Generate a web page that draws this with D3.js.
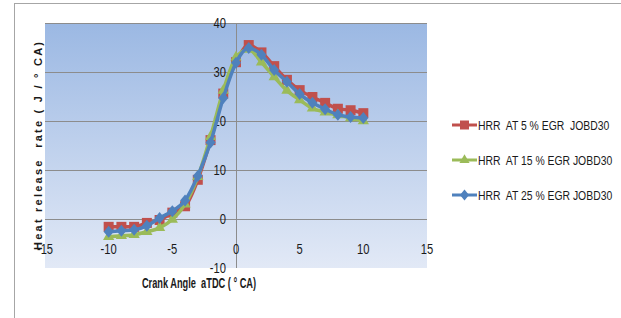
<!DOCTYPE html>
<html lang="en">
<head>
<meta charset="UTF-8">
<title>HRR</title>
<style>
    body{ margin:0; background:#fff; }
    svg{ display:block; }
    text{ white-space: pre; }
</style>
<script src="https://cdn.jsdelivr.net/npm/d3@7/dist/d3.min.js"></script>
</head>
<body>
<div id="container"></div>
<script>

var crankAngle = [-10,-9,-8,-7,-6,-5,-4,-3,-2,-1,0,1,2,3,4,5,6,7,8,9,10];

var hrr5  = [-1.6,-1.6,-1.6,-0.8,-0.2,1.3,2.6,8.0,16.1,25.6,32.0,35.5,34.0,31.2,28.4,26.3,24.9,23.7,22.5,22.2,21.6];
var hrr15 = [-3.6,-3.4,-3.2,-2.6,-1.8,-0.1,3.0,8.6,16.8,26.2,33.0,34.6,32.0,29.0,26.2,24.3,22.6,21.8,21.2,20.6,20.0];
var hrr25 = [-2.6,-2.4,-2.2,-1.4,0.2,1.6,3.8,8.8,15.6,24.7,31.9,34.9,33.5,30.4,28.0,25.5,23.7,22.4,21.3,20.8,20.6];

var seriesNames = ["HRR  AT 5 % EGR  JOBD30", "HRR  AT 15 % EGR JOBD30", "HRR  AT 25 % EGR JOBD30"];
var xTicks = [-15,-10,-5,0,5,10,15];
var yTicks = [-10,0,10,20,30,40];

var w = 621, h = 318;

var svg = d3.select("#container").append("svg")
    .attr("width", w).attr("height", h);

var xScale = d3.scaleLinear().domain([-15, 15]).range([45, 427]);
var yScale = d3.scaleLinear().domain([-10, 40]).range([268, 23]);

// outer frame
svg.append("rect").attr("x", 14.5).attr("y", 3.5).attr("width", 640).attr("height", 340)
    .attr("fill", "none").attr("stroke", "#a6a6a6").attr("stroke-width", 1);

// plot background gradient
var grad = svg.append("defs").append("linearGradient").attr("id", "bg")
    .attr("x1", 0).attr("y1", 0).attr("x2", 0).attr("y2", 1);
grad.append("stop").attr("offset", "0%").attr("stop-color", "#9bb8e3");
grad.append("stop").attr("offset", "100%").attr("stop-color", "#e2e9f6");

svg.append("rect")
    .attr("x", xScale(-15)).attr("y", yScale(40))
    .attr("width", xScale(15) - xScale(-15))
    .attr("height", yScale(-10) - yScale(40))
    .attr("fill", "url(#bg)");

// horizontal gridlines
svg.selectAll(".grid")
    .data(yTicks.filter(function(d){ return d !== -10; }))
    .enter().append("line")
    .attr("x1", xScale(-15)).attr("x2", xScale(15))
    .attr("y1", function(d){ return Math.round(yScale(d)) + 0.5; })
    .attr("y2", function(d){ return Math.round(yScale(d)) + 0.5; })
    .attr("stroke", "#8c8c8c").attr("stroke-width", 1);

// vertical axis at x = 0
svg.append("line")
    .attr("x1", Math.round(xScale(0)) + 0.5).attr("x2", Math.round(xScale(0)) + 0.5)
    .attr("y1", yScale(40)).attr("y2", yScale(-10))
    .attr("stroke", "#8c8c8c").attr("stroke-width", 1);

var font = "'Liberation Sans', Arial, sans-serif";

// x tick labels (narrow, Calibri-like)
svg.selectAll(".xt")
    .data(xTicks)
    .enter().append("text")
    .attr("transform", function(d){ return "translate(" + xScale(d) + ",254) scale(0.8,1)"; })
    .attr("text-anchor", "middle")
    .attr("font-family", font)
    .attr("font-size", "14px")
    .attr("fill", "#1a1a1a")
    .text(function(d){ return d; });

// y tick labels
svg.selectAll(".yt")
    .data(yTicks)
    .enter().append("text")
    .attr("transform", function(d){ return "translate(" + (xScale(0) - 10) + "," + (yScale(d) + 5) + ") scale(0.8,1)"; })
    .attr("text-anchor", "end")
    .attr("font-family", font)
    .attr("font-size", "14px")
    .attr("fill", "#1a1a1a")
    .text(function(d){ return d; });

var series = [
    {name: seriesNames[0], values: hrr5,  color: "#c0504d", marker: "square"},
    {name: seriesNames[1], values: hrr15, color: "#9bbb59", marker: "triangle"},
    {name: seriesNames[2], values: hrr25, color: "#4f81bd", marker: "diamond"}
];

function markerPath(type, size) {
    if (type === "square") return d3.symbol().type(d3.symbolSquare).size(size * size)();
    if (type === "triangle") return d3.symbol().type(d3.symbolTriangle).size(size * size * 0.55)();
    return "M0," + (-size * 0.6) + "L" + (size * 0.5) + ",0L0," + (size * 0.6) + "L" + (-size * 0.5) + ",0Z";
}

var line = d3.line()
    .x(function(d){ return xScale(d[0]); })
    .y(function(d){ return yScale(d[1]); })
    .curve(d3.curveMonotoneX);

series.forEach(function(s) {
    var pts = crankAngle.map(function(a, i){ return [a, s.values[i]]; });
    var g = svg.append("g");
    g.append("path")
        .attr("d", line(pts))
        .attr("fill", "none")
        .attr("stroke", s.color)
        .attr("stroke-width", 3.5)
        .attr("stroke-linejoin", "round");
    g.selectAll("path.m")
        .data(pts)
        .enter().append("path")
        .attr("class", "m")
        .attr("transform", function(d){ return "translate(" + xScale(d[0]) + "," + yScale(d[1]) + ")"; })
        .attr("d", markerPath(s.marker, 10))
        .attr("fill", s.color);
});

// legend
var legend = svg.append("g");
series.forEach(function(s, i) {
    var ly = 125 + i * 35;
    legend.append("line")
        .attr("x1", 452).attr("x2", 477)
        .attr("y1", ly).attr("y2", ly)
        .attr("stroke", s.color).attr("stroke-width", 3);
    legend.append("path")
        .attr("transform", "translate(464.5," + ly + ")")
        .attr("d", markerPath(s.marker, 9))
        .attr("fill", s.color);
    legend.append("text")
        .attr("transform", "translate(478," + (ly + 5) + ") scale(0.8,1)")
        .attr("font-family", font)
        .attr("font-size", "13px")
        .attr("fill", "#1a1a1a")
        .text(s.name);
});

// axis titles
svg.append("text")
    .attr("transform", "translate(199,288) scale(0.66,1)")
    .attr("text-anchor", "middle")
    .attr("font-family", font)
    .attr("font-weight", "bold")
    .attr("font-size", "14px")
    .attr("fill", "#1a1a1a")
    .text("Crank Angle  aTDC ( ° CA)");

svg.append("text")
    .attr("transform", "translate(42,146) rotate(-90)")
    .attr("text-anchor", "middle")
    .attr("font-family", font)
    .attr("font-weight", "bold")
    .attr("font-size", "11px")
    .attr("textLength", 208)
    .attr("lengthAdjust", "spacing")
    .attr("fill", "#1a1a1a")
    .text("Heat release  rate ( J / ° CA)");

</script>
</body>
</html>
